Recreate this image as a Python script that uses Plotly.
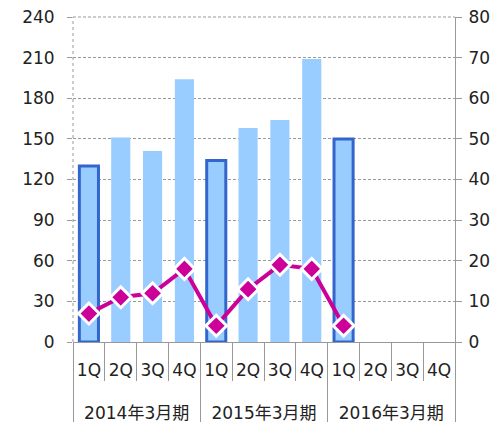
import plotly.graph_objects as go

fiscal_years = ["2014年3月期"] * 4 + ["2015年3月期"] * 4 + ["2016年3月期"] * 4
quarters = ["1Q", "2Q", "3Q", "4Q"] * 3
bar_values = [130, 151, 141, 194, 134, 158, 164, 209, 150, None, None, None]
line_values = [7, 11, 12, 18, 4, 13, 19, 18, 4, None, None, None]
highlight = [True, False, False, False, True, False, False, False, True, False, False, False]
left_ticks = [0, 30, 60, 90, 120, 150, 180, 210, 240]
right_ticks = [0, 10, 20, 30, 40, 50, 60, 70, 80]

BAR = "#99CCFF"
EDGE = "#3366CC"
LINE = "#CC0099"
AX = "#999999"
DASH = "3px,2px"
FONT = "DejaVu Sans, Noto Sans CJK JP, sans-serif"

cats = [f"{y} {q}" for y, q in zip(fiscal_years, quarters)]
n = len(cats)
xr = [-0.5, n - 0.5]
groups = list(dict.fromkeys(fiscal_years))
group_idx = {g: [i for i, y in enumerate(fiscal_years) if y == g] for g in groups}
group_centers = [sum(v) / len(v) for v in group_idx.values()]
group_bounds = [-0.5] + [max(v) + 0.5 for v in group_idx.values()]
cat_bounds = [i - 0.5 for i in range(n + 1)]

fig = go.Figure()
fig.add_trace(go.Bar(
    x=cats, y=bar_values,
    marker=dict(color=BAR,
                line=dict(color=[EDGE if h else BAR for h in highlight],
                          width=[3 if h else 0 for h in highlight])),
    yaxis="y", showlegend=False, hoverinfo="skip",
))
fig.add_trace(go.Scatter(
    x=cats, y=line_values, mode="lines+markers",
    line=dict(color=LINE, width=4),
    marker=dict(symbol="diamond", size=16, color=LINE, line=dict(color="white", width=3)),
    yaxis="y2", showlegend=False, connectgaps=False,
))
# empty traces so the helper axes are drawn
fig.add_trace(go.Scatter(x=[], y=[], xaxis="x2", yaxis="y", showlegend=False))
fig.add_trace(go.Scatter(x=[], y=[], xaxis="x3", yaxis="y", showlegend=False))

W, H = 490, 414
L, T = 65, 9
PW, PH = 382, 325

fig.update_layout(
    width=W, height=H,
    margin=dict(l=L, r=W - L - PW, t=T, b=H - T - PH, autoexpand=False),
    paper_bgcolor="white", plot_bgcolor="white",
    font=dict(family=FONT, size=17, color="#222222"),
    bargap=0.4,
    xaxis=dict(
        type="category", range=xr, automargin=False,
        tickvals=cats, ticktext=quarters, tickangle=0,
        ticks="", showline=True, linecolor=AX, linewidth=1,
        showgrid=False, ticklabelstandoff=13, ticklabeloverflow="allow",
    ),
    xaxis2=dict(
        overlaying="x", anchor="y", side="bottom", range=xr, automargin=False,
        tickvals=cat_bounds, showticklabels=False,
        ticks="outside", ticklen=38, tickcolor=AX, tickwidth=1,
        showgrid=False, zeroline=False, showline=False,
    ),
    xaxis3=dict(
        overlaying="x", anchor="y", side="bottom", range=xr, automargin=False,
        tickvals=group_centers, ticktext=groups, tickangle=0, ticks="",
        ticklabelstandoff=59, ticklabeloverflow="allow",
        minor=dict(tickvals=group_bounds, ticks="outside", ticklen=80, tickcolor=AX, tickwidth=1, showgrid=False),
        showgrid=False, zeroline=False, showline=False,
    ),
    yaxis=dict(
        range=[0, 240], tickvals=left_ticks, ticktext=[str(v) for v in left_ticks],
        showgrid=True, gridcolor=AX, griddash=DASH, gridwidth=1,
        ticks="outside", ticklen=5, tickcolor=AX, automargin=False,
        showline=False, zeroline=False, ticklabelstandoff=9, ticklabeloverflow="allow",
    ),
    yaxis2=dict(
        range=[0, 80], tickvals=right_ticks, ticktext=[str(v) for v in right_ticks],
        overlaying="y", side="right", showgrid=False, automargin=False,
        showline=True, linecolor=AX, linewidth=1, ticklabeloverflow="allow",
        ticks="outside", ticklen=6, tickcolor=AX, zeroline=False, ticklabelstandoff=3,
    ),
    shapes=[
        dict(type="line", xref="paper", yref="paper", x0=0, x1=0, y0=0, y1=1,
             line=dict(color=AX, width=1, dash="dot")),
        dict(type="line", xref="paper", yref="paper", x0=0, x1=1, y0=1, y1=1,
             line=dict(color=AX, width=1, dash=DASH)),
    ],
)

fig.write_html("out.html")
